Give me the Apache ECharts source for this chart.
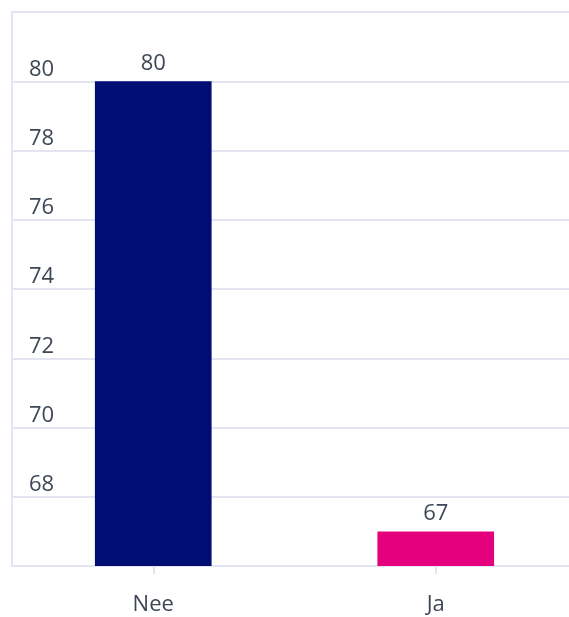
<!DOCTYPE html>
<html><head><meta charset="utf-8">
<script src="https://cdn.jsdelivr.net/npm/echarts@6/dist/echarts.min.js"></script>
<style>html,body{margin:0;padding:0;background:#fff}#c{width:569px;height:617px}</style>
</head><body><div id="c"></div>
<script>
const categories = ['Nee', 'Ja'];
const values = [80, 67];
const barColors = ['#000d73', '#e5007e'];
const yMin = 66, yMax = 82, yStep = 2;

const chart = echarts.init(document.getElementById('c'), null, {renderer: 'canvas'});
const font = '"Open Sans", sans-serif';
chart.setOption({
  animation: false,
  grid: {left: 12, top: 12, width: 565, height: 554, containLabel: false, outerBoundsMode: 'none'},
  xAxis: {
    type: 'category', data: categories,
    axisLine: {show: true, lineStyle: {color: '#e3e6f2', width: 2}},
    axisTick: {show: true, alignWithLabel: true, length: 8, lineStyle: {color: '#e3e6f2', width: 2}},
    axisLabel: {margin: 28, fontSize: 22, color: '#3e4756', fontFamily: font}
  },
  yAxis: {
    type: 'value', min: yMin, max: yMax, interval: yStep,
    axisLine: {show: true, lineStyle: {color: '#e3e6f2', width: 2}},
    axisTick: {show: false},
    splitLine: {show: true, lineStyle: {color: '#e3e6f2', width: 2}},
    axisLabel: {inside: true, showMinLabel: false, showMaxLabel: false, margin: 17,
      verticalAlign: 'bottom', padding: [0, 0, 1, 0],
      fontSize: 22, color: '#3e4756', fontFamily: font}
  },
  series: [{
    type: 'bar', barWidth: '41.3%',
    data: values.map((v, i) => ({value: v, itemStyle: {color: barColors[i]}})),
    label: {show: true, position: 'top', distance: 7, fontSize: 22, color: '#3e4756', fontFamily: font}
  }]
});
</script></body></html>
